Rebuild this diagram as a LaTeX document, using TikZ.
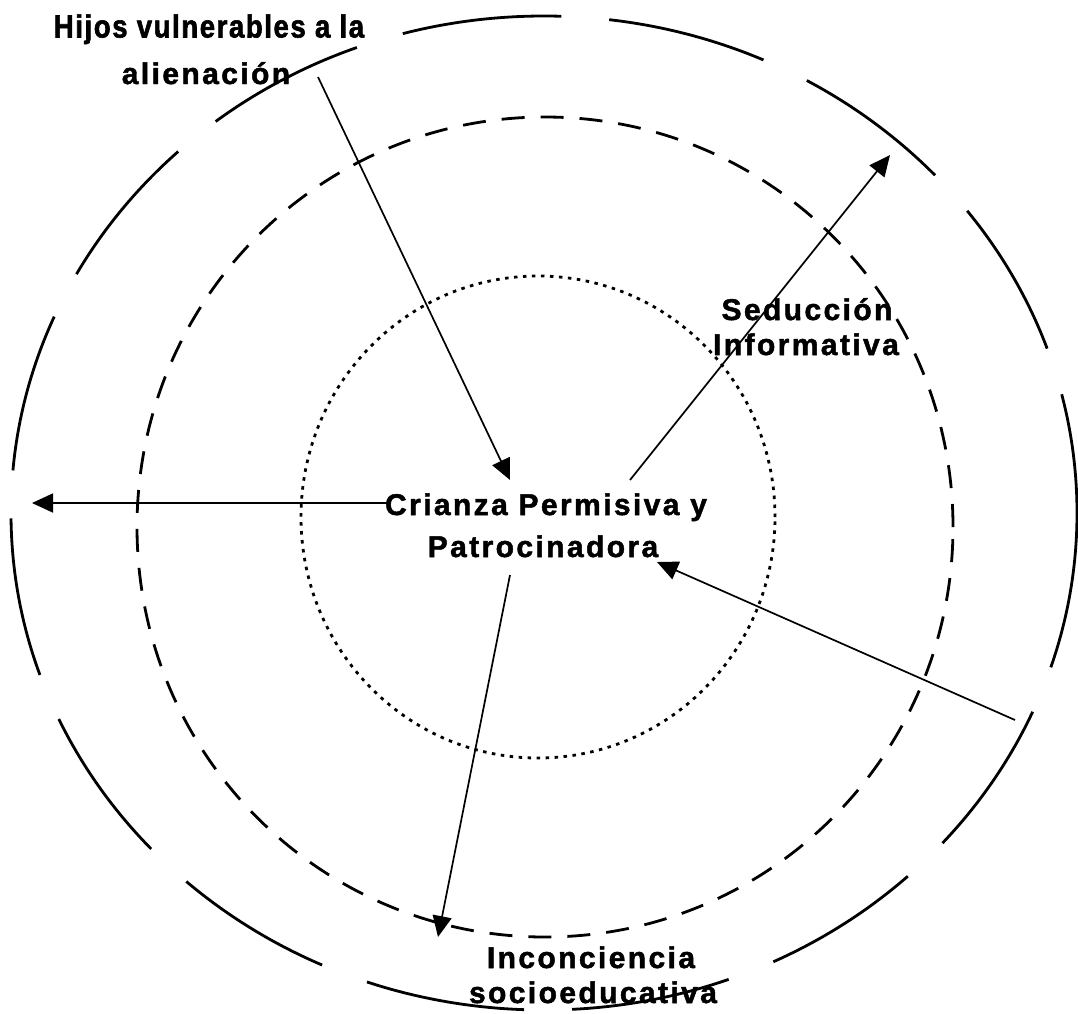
\documentclass[tikz,border=0pt]{standalone}
\usepackage{fontspec}
\usetikzlibrary{arrows.meta}
\newfontfamily\lblfont[LetterSpace=8,FakeBold=1.6]{Liberation Sans}
\newfontfamily\lbltight[LetterSpace=5,FakeBold=1.8,FakeStretch=0.86]{Liberation Sans}
\begin{document}
\begin{tikzpicture}[x=1pt,y=-1pt,
  ring/.style={line width=2.8pt},
  outerring/.style={ring,dash pattern=on 160pt off 48pt,dash phase=40pt},
  midring/.style={ring,dash pattern=on 23pt off 16pt},
  innerring/.style={ring,dash pattern=on 3.5pt off 5.5pt},
  conn/.style={line width=1.7pt,-{Triangle[length=21pt,width=19pt]}},
  lbl/.style={inner sep=0pt,anchor=base,font=\lblfont\bfseries\fontsize{30}{36}\selectfont},
  lbltight/.style={inner sep=0pt,anchor=base,font=\lbltight\bfseries\fontsize{32}{38}\selectfont}]
\useasboundingbox (0,0) rectangle (1078,1013);
% rings
\draw[outerring] (544,513) ellipse [x radius=533pt, y radius=497pt];
\draw[midring] (545,527) ellipse [x radius=408pt, y radius=410pt];
\draw[innerring] (538,517) ellipse [x radius=237pt, y radius=241pt];
% labels
\node[lbltight] (hijos1) at (209,37.5) {Hijos vulnerables a la};
\node[lbl] (hijos2) at (206,84) {alienación};
\node[lbl] (sed1) at (807,320) {Seducción};
\node[lbl] (sed2) at (806,355) {Informativa};
\node[lbl] (cri1) at (546,515) {Crianza Permisiva y};
\node[lbl] (cri2) at (543,557) {Patrocinadora};
\node[lbl] (inc1) at (591,968) {Inconciencia};
\node[lbl] (inc2) at (593,1003) {socioeducativa};
% connector ends
\coordinate (a1s) at (318,77);
\coordinate (a1e) at (510,480);
\coordinate (a2s) at (630,480);
\coordinate (a2e) at (890,155);
\coordinate (a3s) at (387,503);
\coordinate (a3e) at (32,503);
\coordinate (a4s) at (510,575);
\coordinate (a4e) at (438,937);
\coordinate (a5s) at (1015,720);
\coordinate (a5e) at (657,562);
% connectors
\draw[conn] (a1s) -- (a1e);
\draw[conn] (a2s) -- (a2e);
\draw[conn] (a3s) -- (a3e);
\draw[conn] (a4s) -- (a4e);
\draw[conn] (a5s) -- (a5e);
\end{tikzpicture}
\end{document}
